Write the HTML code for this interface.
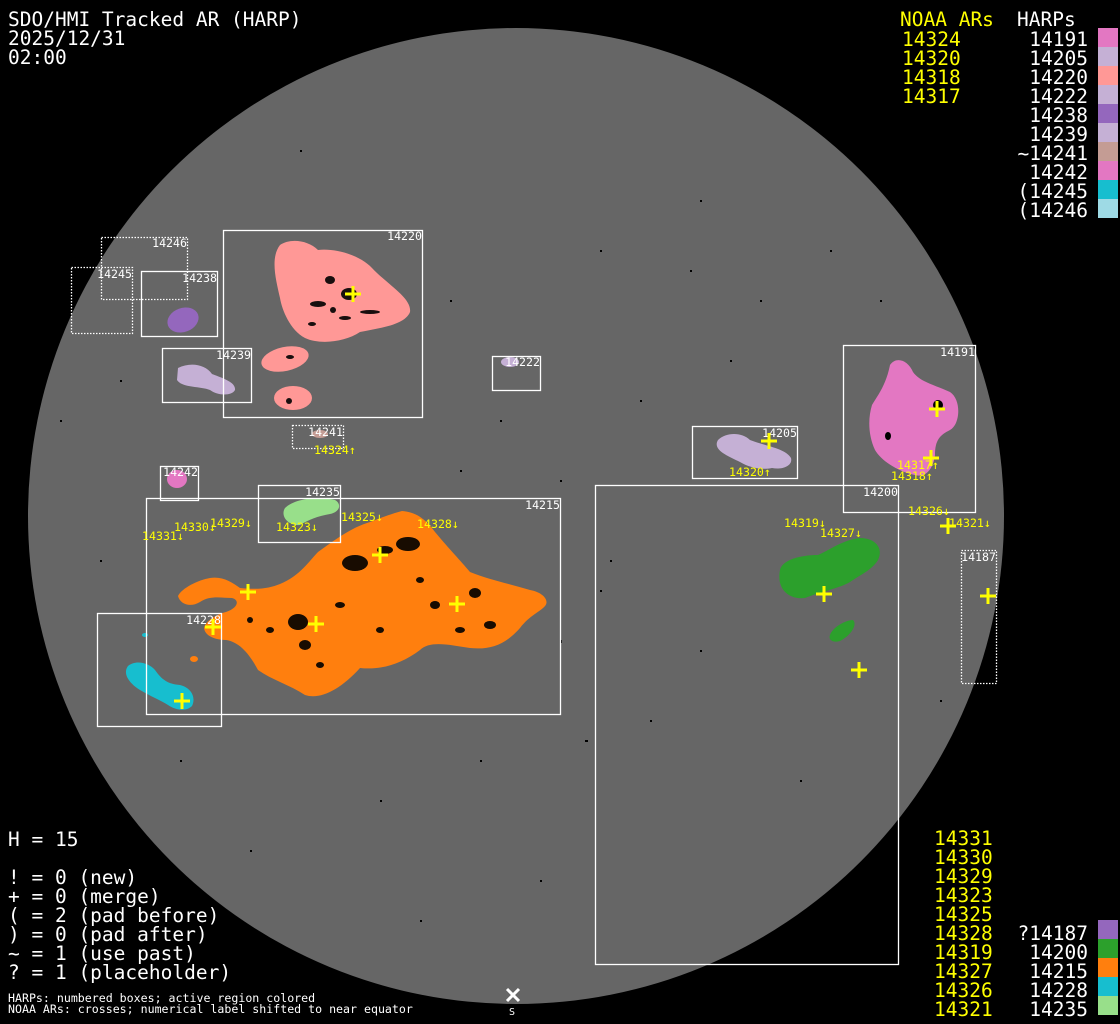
<!DOCTYPE html>
<html><head><meta charset="utf-8"><style>
html,body{margin:0;padding:0;background:#000;}
svg{display:block;}
.t{font-family:"DejaVu Sans Mono","Liberation Mono",monospace;font-size:19.5px;fill:#fff;}
.y{fill:#ffff00;}
.s{font-family:"DejaVu Sans Mono","Liberation Mono",monospace;font-size:11.6px;fill:#fff;}
.sy{font-family:"DejaVu Sans Mono","Liberation Mono",monospace;font-size:11.6px;fill:#ffff00;}
.b{fill:none;stroke:#fff;stroke-width:1.3;}
.d{fill:none;stroke:#fff;stroke-width:1.3;stroke-dasharray:1.5 1.5;}
.k{fill:#000;}
</style></head><body>
<svg width="1120" height="1024" viewBox="0 0 1120 1024" xmlns="http://www.w3.org/2000/svg">
<rect width="1120" height="1024" fill="#000"/>
<circle cx="516" cy="516" r="488" fill="#666"/>

<g class="k">
<rect x="60" y="420" width="2" height="2"/><rect x="120" y="380" width="2" height="2"/><rect x="300" y="150" width="2" height="2"/>
<rect x="450" y="300" width="2" height="2"/><rect x="600" y="250" width="2" height="2"/><rect x="700" y="200" width="2" height="2"/>
<rect x="760" y="300" width="2" height="2"/><rect x="640" y="400" width="2" height="2"/><rect x="560" y="480" width="2" height="2"/>
<rect x="480" y="760" width="2" height="2"/><rect x="380" y="800" width="2" height="2"/><rect x="250" y="850" width="2" height="2"/>
<rect x="700" y="650" width="2" height="2"/><rect x="650" y="720" width="2" height="2"/><rect x="540" y="880" width="2" height="2"/>
<rect x="420" y="920" width="2" height="2"/><rect x="180" y="760" width="2" height="2"/><rect x="800" y="780" width="2" height="2"/>
<rect x="880" y="300" width="2" height="2"/><rect x="940" y="700" width="2" height="2"/><rect x="830" y="250" width="2" height="2"/>
<rect x="690" y="270" width="2" height="2"/><rect x="500" y="420" width="2" height="2"/><rect x="460" y="470" width="2" height="2"/>
<rect x="585" y="740" width="3" height="2"/><rect x="560" y="640" width="2" height="3"/><rect x="100" y="560" width="2" height="2"/>
<rect x="730" y="360" width="2" height="2"/><rect x="600" y="590" width="2" height="2"/><rect x="610" y="560" width="2" height="2"/>
</g>

<path d="M280,245 C290,238 308,240 318,250 C335,248 360,255 372,268 C388,285 412,298 410,312 C405,325 380,328 360,332 C345,342 320,345 305,338 C290,330 282,310 280,298 C276,280 270,258 280,245Z" fill="#ff9896"/>
<ellipse cx="285" cy="359" rx="24" ry="12" fill="#ff9896" transform="rotate(-12 285 359)"/>
<ellipse cx="293" cy="398" rx="19" ry="12" fill="#ff9896"/>
<g class="k" opacity="0.9">
<ellipse cx="349" cy="294" rx="8" ry="6"/><ellipse cx="330" cy="280" rx="5" ry="4"/><ellipse cx="318" cy="304" rx="8" ry="3"/>
<ellipse cx="333" cy="310" rx="3" ry="3"/><ellipse cx="345" cy="318" rx="6" ry="2"/><ellipse cx="370" cy="312" rx="10" ry="2"/>
<ellipse cx="312" cy="324" rx="4" ry="2"/><ellipse cx="289" cy="401" rx="3" ry="3"/><ellipse cx="290" cy="357" rx="4" ry="2"/>
</g>
<ellipse cx="183" cy="320" rx="16" ry="12" fill="#9467bd" transform="rotate(-20 183 320)"/>
<path d="M178,368 C190,362 205,364 212,374 C222,378 236,382 235,390 C232,396 218,396 210,390 C200,386 182,388 177,380Z" fill="#c5b0d5"/>
<ellipse cx="510" cy="362" rx="9" ry="5" fill="#c5b0d5"/>
<ellipse cx="320" cy="434" rx="8" ry="4" fill="#c49c94"/>
<ellipse cx="177" cy="479" rx="10" ry="9" fill="#e377c2"/>
<path d="M285,508 C295,498 320,496 335,500 C342,504 340,512 330,514 C318,516 308,520 300,525 C288,526 280,516 285,508Z" fill="#98df8a"/>
<path d="M178,596 C182,588 198,580 210,578 C222,576 232,582 240,588 C260,590 270,588 280,584 C300,576 310,560 318,552 C335,540 350,528 370,522 C385,516 398,512 402,511 C415,512 425,518 435,532 C450,550 460,560 470,572 C490,580 510,584 530,590 C542,592 550,600 545,606 C540,612 530,615 520,628 C505,645 490,650 470,648 C450,645 430,640 420,650 C400,665 380,670 360,668 C340,690 320,700 305,695 C290,685 272,680 258,670 C250,655 240,642 226,640 C215,640 205,636 204,628 C206,620 218,614 226,612 C238,608 240,600 232,598 C222,598 210,595 200,602 C190,608 180,604 178,596Z" fill="#ff7f0e"/>
<ellipse cx="194" cy="659" rx="4" ry="3" fill="#ff7f0e"/>
<g class="k" opacity="0.9">
<ellipse cx="355" cy="563" rx="13" ry="8"/><ellipse cx="408" cy="544" rx="12" ry="7"/><ellipse cx="385" cy="550" rx="8" ry="4"/>
<ellipse cx="298" cy="622" rx="10" ry="8"/><ellipse cx="305" cy="645" rx="6" ry="5"/><ellipse cx="475" cy="593" rx="6" ry="5"/>
<ellipse cx="490" cy="625" rx="6" ry="4"/><ellipse cx="435" cy="605" rx="5" ry="4"/><ellipse cx="340" cy="605" rx="5" ry="3"/>
<ellipse cx="270" cy="630" rx="4" ry="3"/><ellipse cx="380" cy="630" rx="4" ry="3"/><ellipse cx="420" cy="580" rx="4" ry="3"/>
<ellipse cx="460" cy="630" rx="5" ry="3"/><ellipse cx="320" cy="665" rx="4" ry="3"/><ellipse cx="250" cy="620" rx="3" ry="3"/>
</g>
<path d="M128,666 C135,660 148,662 155,670 C162,680 168,684 180,685 C192,688 196,698 192,706 C186,712 175,710 168,705 C160,700 150,696 140,690 C130,684 122,674 128,666Z" fill="#17becf"/>
<ellipse cx="145" cy="635" rx="3" ry="2" fill="#17becf"/>
<path d="M718,440 C726,432 742,432 750,440 C765,446 785,448 791,458 C793,466 782,470 772,468 C762,470 750,468 740,462 C728,456 712,450 718,440Z" fill="#c5b0d5"/>
<path d="M890,365 C896,356 908,360 913,372 C920,382 935,385 950,392 C962,400 960,425 950,430 C940,435 935,440 935,455 C933,470 925,478 915,475 C900,472 882,462 875,450 C868,435 868,418 872,405 C878,395 886,385 890,365Z" fill="#e377c2"/>
<g class="k"><ellipse cx="938" cy="405" rx="5" ry="5"/><ellipse cx="888" cy="436" rx="3" ry="4"/></g>
<path d="M780,570 C782,560 800,555 818,555 C830,550 842,540 860,538 C875,538 884,548 878,560 C872,570 860,575 850,582 C840,588 820,592 805,598 C790,600 776,590 780,570Z" fill="#2ca02c"/>
<path d="M830,635 C832,628 845,620 853,620 C858,625 850,636 840,641 C833,643 828,640 830,635Z" fill="#2ca02c"/>

<rect class="b" x="223.5" y="230.5" width="199" height="187"/>
<rect class="b" x="141.5" y="271.5" width="76" height="65"/>
<rect class="b" x="162.5" y="348.5" width="89" height="54"/>
<rect class="b" x="492.5" y="356.5" width="48" height="34"/>
<rect class="d" x="292.5" y="425.5" width="51" height="23"/>
<rect class="d" x="101.5" y="237.5" width="86" height="62"/>
<rect class="d" x="71.5" y="267.5" width="61" height="66"/>
<rect class="b" x="160.5" y="466.5" width="38" height="34"/>
<rect class="b" x="258.5" y="485.5" width="82" height="57"/>
<rect class="b" x="146.5" y="498.5" width="414" height="216"/>
<rect class="b" x="97.5" y="613.5" width="124" height="113"/>
<rect class="b" x="692.5" y="426.5" width="105" height="52"/>
<rect class="b" x="843.5" y="345.5" width="132" height="167"/>
<rect class="b" x="595.5" y="485.5" width="303" height="479"/>
<rect class="d" x="961.5" y="550.5" width="35" height="133"/>

<g class="s" text-anchor="end">
<text x="422" y="240">14220</text><text x="217" y="282">14238</text><text x="251" y="359">14239</text>
<text x="540" y="366">14222</text><text x="343" y="436">14241</text><text x="187" y="247">14246</text>
<text x="132" y="278">14245</text><text x="198" y="476">14242</text><text x="340" y="496">14235</text>
<text x="560" y="509">14215</text><text x="221" y="624">14228</text><text x="797" y="437">14205</text>
<text x="975" y="356">14191</text><text x="898" y="496">14200</text><text x="996" y="561">14187</text>
</g>

<g class="sy">
<text x="314" y="454">14324↑</text><text x="174" y="531">14330↓</text><text x="210" y="527">14329↓</text>
<text x="142" y="540">14331↓</text><text x="276" y="531">14323↓</text><text x="341" y="521">14325↓</text>
<text x="417" y="528">14328↓</text><text x="729" y="476">14320↑</text><text x="897" y="469">14317↑</text>
<text x="891" y="480">14318↑</text><text x="908" y="515">14326↓</text><text x="949" y="527">14321↓</text>
<text x="784" y="527">14319↓</text><text x="820" y="537">14327↓</text>
</g>

<g stroke="#ffff00" stroke-width="3" fill="none">
<path d="M345,294h16M353,286v16"/><path d="M372,555h16M380,547v16"/><path d="M240,592h16M248,584v16"/>
<path d="M308,624h16M316,616v16"/><path d="M449,604h16M457,596v16"/><path d="M205,627h16M213,619v16"/>
<path d="M174,701h16M182,693v16"/><path d="M761,441h16M769,433v16"/><path d="M929,409h16M937,401v16"/>
<path d="M923,458h16M931,450v16"/><path d="M940,526h16M948,518v16"/><path d="M980,596h16M988,588v16"/>
<path d="M816,594h16M824,586v16"/><path d="M851,670h16M859,662v16"/>
</g>

<path d="M507,989l12,12M519,989l-12,12" stroke="#fff" stroke-width="3"/>
<text class="s" x="509" y="1015" style="font-size:10px">S</text>

<text class="t" x="8" y="26">SDO/HMI Tracked AR (HARP)</text>
<text class="t" x="8" y="45">2025/12/31</text>
<text class="t" x="8" y="64">02:00</text>

<text class="t y" x="900" y="26">NOAA ARs</text>
<text class="t" x="1017" y="26">HARPs</text>
<g class="t y">
<text x="902" y="46">14324</text><text x="902" y="65">14320</text><text x="902" y="84">14318</text><text x="902" y="103">14317</text>
</g>
<g class="t" text-anchor="end">
<text x="1088" y="46">14191</text><text x="1088" y="65">14205</text><text x="1088" y="84">14220</text>
<text x="1088" y="103">14222</text><text x="1088" y="122">14238</text><text x="1088" y="141">14239</text>
<text x="1088" y="160">~14241</text><text x="1088" y="179">14242</text><text x="1088" y="198">(14245</text>
<text x="1088" y="217">(14246</text>
</g>
<rect x="1098" y="28" width="20" height="19" fill="#e377c2"/>
<rect x="1098" y="47" width="20" height="19" fill="#c5b0d5"/>
<rect x="1098" y="66" width="20" height="19" fill="#ff9896"/>
<rect x="1098" y="85" width="20" height="19" fill="#c5b0d5"/>
<rect x="1098" y="104" width="20" height="19" fill="#9467bd"/>
<rect x="1098" y="123" width="20" height="19" fill="#c5b0d5"/>
<rect x="1098" y="142" width="20" height="19" fill="#c49c94"/>
<rect x="1098" y="161" width="20" height="19" fill="#e377c2"/>
<rect x="1098" y="180" width="20" height="19" fill="#17becf"/>
<rect x="1098" y="199" width="20" height="19" fill="#9edae5"/>

<text class="t" x="8" y="846">H = 15</text>
<text class="t" x="8" y="884">! = 0 (new)</text>
<text class="t" x="8" y="903">+ = 0 (merge)</text>
<text class="t" x="8" y="922">( = 2 (pad before)</text>
<text class="t" x="8" y="941">) = 0 (pad after)</text>
<text class="t" x="8" y="960">~ = 1 (use past)</text>
<text class="t" x="8" y="979">? = 1 (placeholder)</text>
<text class="s" x="8" y="1002">HARPs: numbered boxes; active region colored</text>
<text class="s" x="8" y="1013">NOAA ARs: crosses; numerical label shifted to near equator</text>

<g class="t y">
<text x="934" y="845">14331</text><text x="934" y="864">14330</text><text x="934" y="883">14329</text>
<text x="934" y="902">14323</text><text x="934" y="921">14325</text><text x="934" y="940">14328</text>
<text x="934" y="959">14319</text><text x="934" y="978">14327</text><text x="934" y="997">14326</text>
<text x="934" y="1016">14321</text>
</g>
<g class="t" text-anchor="end">
<text x="1088" y="940">?14187</text><text x="1088" y="959">14200</text><text x="1088" y="978">14215</text>
<text x="1088" y="997">14228</text><text x="1088" y="1016">14235</text>
</g>
<rect x="1098" y="920" width="20" height="19" fill="#9467bd"/>
<rect x="1098" y="939" width="20" height="19" fill="#2ca02c"/>
<rect x="1098" y="958" width="20" height="19" fill="#ff7f0e"/>
<rect x="1098" y="977" width="20" height="19" fill="#17becf"/>
<rect x="1098" y="996" width="20" height="19" fill="#98df8a"/>
</svg>
</body></html>
